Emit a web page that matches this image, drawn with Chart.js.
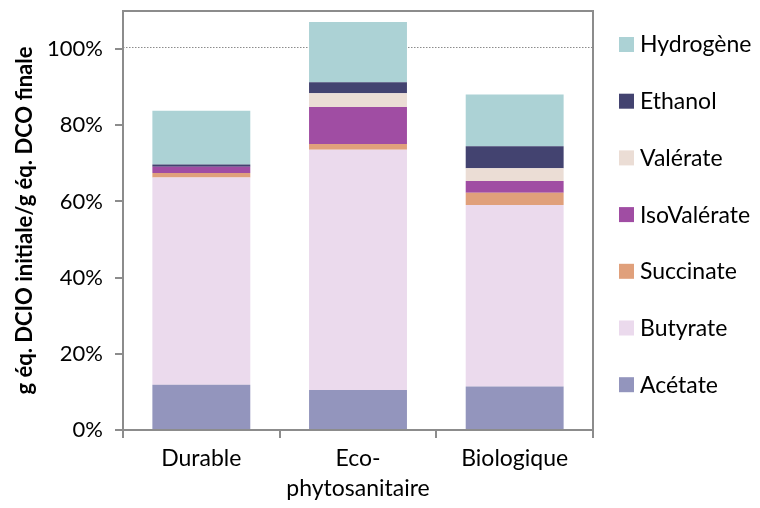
<!DOCTYPE html>
<html>
<head>
<meta charset="utf-8">
<script src="https://cdn.jsdelivr.net/npm/chart.js@4"></script>
<style>
  html, body { margin: 0; padding: 0; background: #fff; }
  #wrap { width: 760px; height: 508px; }
</style>
</head>
<body>
<div id="wrap"><canvas id="chart" width="760" height="508"></canvas></div>
<script>
const categories = ['Durable', ['Eco-', 'phytosanitaire'], 'Biologique'];

const acetate     = [11.9, 10.5, 11.4];
const butyrate    = [54.4, 63.1, 47.7];
const succinate   = [1.2, 1.5, 3.2];
const isovalerate = [1.6, 9.7, 3.1];
const valerate    = [0.0, 3.6, 3.3];
const ethanol     = [0.6, 2.9, 5.8];
const hydrogene   = [14.1, 15.8, 13.6];

const yTicks = [0, 20, 40, 60, 80, 100];
const refLine = 100.5;

const fontFamily = 'Lato, "Open Sans", sans-serif';
const axisGrey = '#8c8c8c';

const datasets = [
    { label: 'Acétate',     data: acetate,     backgroundColor: '#9395bd' },
    { label: 'Butyrate',    data: butyrate,    backgroundColor: '#ebdaed' },
    { label: 'Succinate',   data: succinate,   backgroundColor: '#e0a07b' },
    { label: 'IsoValérate', data: isovalerate, backgroundColor: '#a04da3' },
    { label: 'Valérate',    data: valerate,    backgroundColor: '#ebddd5' },
    { label: 'Ethanol',     data: ethanol,     backgroundColor: '#434370' },
    { label: 'Hydrogène',   data: hydrogene,   backgroundColor: '#acd2d5' }
];

// frame, dotted 100% line and the legend on the right
const extras = {
    id: 'extras',
    beforeDatasetsDraw(chart) {
        const { ctx, chartArea: a, scales } = chart;
        const y = Math.round(scales.y.getPixelForValue(refLine)) + 0.5;
        ctx.save();
        ctx.strokeStyle = '#8c8c8c';
        ctx.lineWidth = 1;
        ctx.setLineDash([1.5, 1.5]);
        ctx.beginPath();
        ctx.moveTo(a.left, y);
        ctx.lineTo(a.right, y);
        ctx.stroke();
        ctx.restore();
    },
    afterDraw(chart) {
        const { ctx, chartArea: a } = chart;
        ctx.save();
        ctx.strokeStyle = axisGrey;
        ctx.lineWidth = 2;
        ctx.beginPath();
        ctx.moveTo(a.left, a.top);
        ctx.lineTo(a.right, a.top);
        ctx.lineTo(a.right, a.bottom);
        ctx.stroke();

        const items = chart.data.datasets.slice().reverse();
        ctx.font = '23px ' + fontFamily;
        ctx.textBaseline = 'middle';
        items.forEach((ds, i) => {
            const cy = 44 + i * 56.7;
            ctx.fillStyle = ds.backgroundColor;
            ctx.fillRect(619, cy - 7, 15, 15);
            ctx.fillStyle = '#000';
            ctx.fillText(ds.label, 640, cy + 1);
        });
        ctx.restore();
    }
};

new Chart(document.getElementById('chart'), {
    type: 'bar',
    data: { labels: categories, datasets: datasets },
    options: {
        responsive: false,
        animation: false,
        layout: { padding: { top: 11, right: 167, left: 0, bottom: 0 } },
        datasets: {
            bar: { barPercentage: 0.625, categoryPercentage: 1, borderWidth: 0 }
        },
        plugins: {
            legend: { display: false },
            tooltip: { enabled: false }
        },
        scales: {
            x: {
                stacked: true,
                grid: { display: true, drawOnChartArea: false, drawTicks: true, tickLength: 8, color: axisGrey, lineWidth: 2 },
                border: { color: axisGrey, width: 2 },
                ticks: { color: '#000', font: { size: 23, family: fontFamily, lineHeight: 1.3 }, padding: 6, maxRotation: 0 },
                afterFit(scale) {
                    scale.height = 78;
                    scale.paddingLeft = 0;
                    scale.paddingRight = 0;
                }
            },
            y: {
                stacked: true,
                min: 0,
                max: 110,
                afterBuildTicks(scale) { scale.ticks = yTicks.map(v => ({ value: v })); },
                grid: { display: true, drawOnChartArea: false, drawTicks: true, tickLength: 8, color: axisGrey, lineWidth: 2 },
                border: { color: axisGrey, width: 2 },
                ticks: {
                    color: '#000',
                    font: { size: 22, family: fontFamily },
                    padding: 12,
                    callback: v => v + '%'
                },
                title: {
                    display: true,
                    text: 'g éq. DCIO initiale/g éq. DCO finale',
                    color: '#000',
                    font: { size: 22, weight: 'bold', family: fontFamily },
                    padding: { top: 12, bottom: 0 }
                },
                afterFit(scale) {
                    scale.width = 123;
                    scale.paddingTop = 0;
                    scale.paddingBottom = 0;
                }
            }
        }
    },
    plugins: [extras]
});
</script>
</body>
</html>
